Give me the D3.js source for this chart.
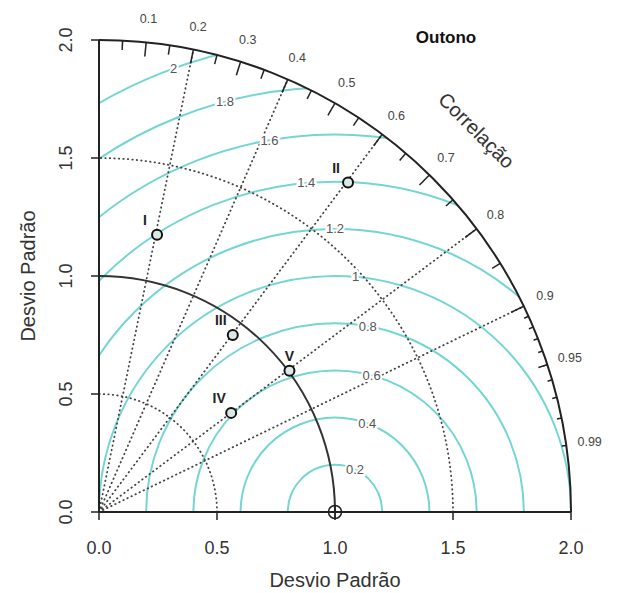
<!DOCTYPE html>
<html>
<head>
<meta charset="utf-8">
<script src="https://cdn.jsdelivr.net/npm/d3@7"></script>
<style>
  body { margin: 0; background: #fff; }
  text { font-family: "Liberation Sans", Arial, sans-serif; }
</style>
</head>
<body>
<svg id="chart" width="623" height="593"></svg>
<script>
// Taylor diagram - Outono
const models = ['I', 'II', 'III', 'IV', 'V'];
const modelSd = [1.20, 1.75, 0.94, 0.70, 1.005];
const modelCor = [0.205, 0.603, 0.603, 0.80, 0.803];

const sdTicks = [0, 0.5, 1.0, 1.5, 2.0];
const corLines = [0.2, 0.4, 0.6, 0.8, 0.9];
const corLabels = [0.1, 0.2, 0.3, 0.4, 0.5, 0.6, 0.7, 0.8, 0.9, 0.95, 0.99];
const rmsLevels = [0.2, 0.4, 0.6, 0.8, 1.0, 1.2, 1.4, 1.6, 1.8, 2.0];
const refSd = 1.0;
const maxSd = 2.0;

const svg = d3.select('#chart');
const x = d3.scaleLinear().domain([0, maxSd]).range([99, 571]);
const y = d3.scaleLinear().domain([0, maxSd]).range([512, 40]);
const k = x(1) - x(0);

// position from (sd, angle)
const polar = (r, a) => [x(r * Math.cos(a)), y(r * Math.sin(a))];
const arcPath = (r, a0, a1) => {
    const p0 = polar(r, a0), p1 = polar(r, a1);
    return `M${p0[0]},${p0[1]}A${r * k},${r * k} 0 0 0 ${p1[0]},${p1[1]}`;
};

// clip to the quarter disk
svg.append('defs').append('clipPath').attr('id', 'quarter')
    .append('path')
    .attr('d', `M${x(0)},${y(0)}L${x(maxSd)},${y(0)}` +
        `A${maxSd * k},${maxSd * k} 0 0 0 ${x(0)},${y(maxSd)}Z`);

// RMS contours
const rms = svg.append('g').attr('clip-path', 'url(#quarter)');
rmsLevels.forEach(g => {
    rms.append('path')
        .attr('d', `M${x(refSd + g)},${y(0)}A${g * k},${g * k} 0 0 0 ${x(refSd - g)},${y(0)}`)
        .attr('fill', 'none')
        .attr('stroke', '#74d6d2')
        .attr('stroke-width', 2);
});

const dotted = sel => sel
    .attr('stroke', '#444')
    .attr('stroke-width', 1.8)
    .attr('stroke-linecap', 'round')
    .attr('stroke-dasharray', '0.5,4');

// dotted correlation rays
corLines.forEach(c => {
    const p = polar(maxSd, Math.acos(c));
    svg.append('line')
        .attr('x1', x(0)).attr('y1', y(0))
        .attr('x2', p[0]).attr('y2', p[1])
        .call(dotted);
});

// dotted sd arcs
[0.5, 1.5].forEach(s => {
    svg.append('path')
        .attr('d', arcPath(s, 0, Math.PI / 2))
        .attr('fill', 'none')
        .call(dotted);
});

// reference sd arc and outer arc
svg.append('path')
    .attr('d', arcPath(refSd, 0, Math.PI / 2))
    .attr('fill', 'none').attr('stroke', '#333').attr('stroke-width', 2);
svg.append('path')
    .attr('d', arcPath(maxSd, 0, Math.PI / 2))
    .attr('fill', 'none').attr('stroke', '#222').attr('stroke-width', 2);

// axes
svg.append('line')
    .attr('x1', x(0)).attr('y1', y(0)).attr('x2', x(maxSd)).attr('y2', y(0))
    .attr('stroke', '#222').attr('stroke-width', 2);
svg.append('line')
    .attr('x1', x(0)).attr('y1', y(0)).attr('x2', x(0)).attr('y2', y(maxSd))
    .attr('stroke', '#222').attr('stroke-width', 2);

sdTicks.forEach(s => {
    svg.append('line')
        .attr('x1', x(s)).attr('x2', x(s)).attr('y1', y(0)).attr('y2', y(0) + 8)
        .attr('stroke', '#222').attr('stroke-width', 1.5);
    svg.append('line')
        .attr('x1', x(0) - 8).attr('x2', x(0)).attr('y1', y(s)).attr('y2', y(s))
        .attr('stroke', '#222').attr('stroke-width', 1.5);
    svg.append('text')
        .attr('x', x(s)).attr('y', y(0) + 42)
        .attr('text-anchor', 'middle')
        .attr('font-size', 18).attr('fill', '#333')
        .text(s.toFixed(1));
    svg.append('text')
        .attr('transform', `translate(${x(0) - 27},${y(s)}) rotate(-90)`)
        .attr('text-anchor', 'middle')
        .attr('font-size', 18).attr('fill', '#333')
        .text(s.toFixed(1));
});

svg.append('text')
    .attr('x', x(1)).attr('y', 587)
    .attr('text-anchor', 'middle')
    .attr('font-size', 20).attr('fill', '#333')
    .text('Desvio Padrão');
svg.append('text')
    .attr('transform', `translate(35,${y(1)}) rotate(-90)`)
    .attr('text-anchor', 'middle')
    .attr('font-size', 20).attr('fill', '#333')
    .text('Desvio Padrão');

// ticks on the outer arc
const tickSets = [
    { vals: d3.range(1, 10).map(i => i / 10), len: 0.03 },
    { vals: d3.range(0, 10).map(i => 0.05 + i / 10), len: 0.02 },
    { vals: d3.range(91, 100).map(i => i / 100), len: 0.01 }
];
tickSets.forEach(ts => {
    ts.vals.forEach(c => {
        const a = Math.acos(c);
        const p0 = polar(maxSd, a), p1 = polar(maxSd * (1 - ts.len), a);
        svg.append('line')
            .attr('x1', p0[0]).attr('y1', p0[1]).attr('x2', p1[0]).attr('y2', p1[1])
            .attr('stroke', '#222').attr('stroke-width', 1.5);
    });
});

corLabels.forEach(c => {
    const p = polar(maxSd * 1.05, Math.acos(c));
    svg.append('text')
        .attr('x', p[0]).attr('y', p[1])
        .attr('dy', '0.35em')
        .attr('text-anchor', 'middle')
        .attr('font-size', 12.5).attr('fill', '#444')
        .text(c);
});

svg.append('text')
    .attr('transform', `translate(${x(0.8 * maxSd)},${y(0.8 * maxSd) - 4}) rotate(45)`)
    .attr('text-anchor', 'middle')
    .attr('dy', '0.35em')
    .attr('font-size', 20).attr('fill', '#333')
    .text('Correlação');

// RMS labels
rmsLevels.forEach(g => {
    const a = (60 + 25 * g) * Math.PI / 180;
    svg.append('text')
        .attr('x', x(refSd + g * Math.cos(a)))
        .attr('y', y(g * Math.sin(a)))
        .attr('dy', '0.35em')
        .attr('text-anchor', 'middle')
        .attr('font-size', 13).attr('fill', '#555')
        .attr('stroke', '#fff').attr('stroke-width', 4)
        .attr('paint-order', 'stroke')
        .text(d3.format('~g')(g));
});

// reference point
const rp = [x(refSd), y(0)];
svg.append('circle')
    .attr('cx', rp[0]).attr('cy', rp[1]).attr('r', 6.5)
    .attr('fill', 'none').attr('stroke', '#222').attr('stroke-width', 1.5);
svg.append('path')
    .attr('d', `M${rp[0] - 6.5},${rp[1]}H${rp[0] + 6.5}M${rp[0]},${rp[1] - 6.5}V${rp[1] + 6.5}`)
    .attr('stroke', '#222').attr('stroke-width', 1.5);

// model points
models.forEach((m, i) => {
    const p = polar(modelSd[i], Math.acos(modelCor[i]));
    svg.append('circle')
        .attr('cx', p[0]).attr('cy', p[1]).attr('r', 5)
        .attr('fill', '#dce8e5').attr('stroke', '#111').attr('stroke-width', 2);
    svg.append('text')
        .attr('x', p[0] - (m === 'V' ? 0 : 12)).attr('y', p[1] - 10)
        .attr('text-anchor', 'middle')
        .attr('font-size', 14).attr('font-weight', 'bold').attr('fill', '#222')
        .text(m);
});

svg.append('text')
    .attr('x', 446).attr('y', 43)
    .attr('text-anchor', 'middle')
    .attr('font-size', 17).attr('font-weight', 'bold').attr('fill', '#111')
    .text('Outono');
</script>
</body>
</html>
